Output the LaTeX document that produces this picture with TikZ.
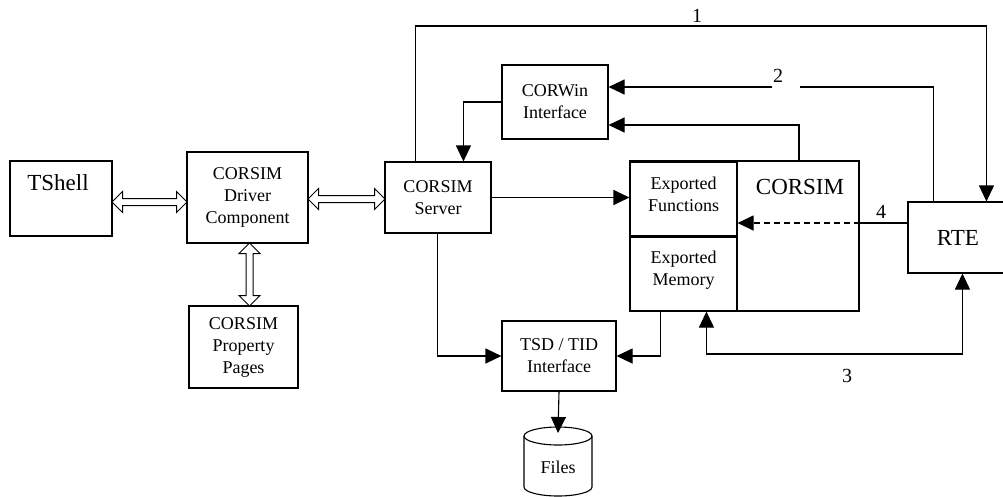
\documentclass[tikz,border=0pt]{standalone}
\usepackage{fontspec}
\setmainfont{Liberation Serif}
\usetikzlibrary{arrows.meta,shapes.arrows,calc}
\newcommand\fsmall{\fontsize{18}{22}\selectfont}
\newcommand\fbig{\fontsize{23}{26}\selectfont}
\newcommand\fnum{\fontsize{20}{24}\selectfont}
\begin{document}
\begin{tikzpicture}[x=1pt,y=-1pt,
  box/.style={draw, line width=1.1pt, inner sep=0pt, align=center, font=\fsmall},
  arr/.style={-{Triangle[length=16pt,width=15pt]}, line width=1.1pt},
  dualarr/.style={{Triangle[length=16pt,width=15pt]}-{Triangle[length=16pt,width=15pt]}, line width=1.1pt},
  plain/.style={line width=1.1pt},
  dbl/.style={draw, line width=1pt, double arrow, double arrow head extend=7pt,
    double arrow head indent=0pt, inner xsep=0pt, inner ysep=3pt},
  lbl/.style={font=\fnum, inner sep=0pt}]
\useasboundingbox (0,0) rectangle (1003,496);
% boxes
\node[box, minimum width=102pt, minimum height=75pt] (tshell) at (61,198.5) {};
\node[font=\fbig] (tshelltxt) at (58,183) {TShell};
\node[box, minimum width=121pt, minimum height=91pt] (driver) at (247.5,197.5) {CORSIM\\Driver\\Component};
\node[box, minimum width=109pt, minimum height=82pt] (prop) at (243.5,347) {CORSIM\\Property\\Pages};
\node[box, minimum width=106pt, minimum height=71pt] (server) at (438,197.5) {CORSIM\\Server};
\node[box, minimum width=106pt, minimum height=74pt] (corwin) at (555,102) {CORWin\\Interface};
\node[box, minimum width=229pt, minimum height=150pt] (corsim) at (744.5,236) {};
\node[font=\fbig] (corsimtxt) at (800,187) {CORSIM};
\node[box, minimum width=107pt, minimum height=74pt, text depth=10pt] (expf) at (683.5,199) {Exported\\Functions};
\node[box, minimum width=107pt, minimum height=75pt, text depth=10pt] (expm) at (683.5,273.5) {Exported\\Memory};
\draw[line width=2.2pt] (expf.south west) -- (expf.south east);
\node[box, minimum width=100pt, minimum height=71pt, font=\fbig] (rte) at (958,237.5) {RTE};
\node[box, minimum width=114pt, minimum height=70pt] (tsd) at (559,356) {TSD / TID\\Interface};
% files cylinder
\node[font=\fsmall] (files) at (558,467) {Files};
\draw[plain] (558,436) ellipse [x radius=34pt, y radius=9pt];
\draw[plain] (524,436) -- (524,487) arc[start angle=180, end angle=360, x radius=34pt, y radius=9pt] -- (592,436);
\coordinate (filestop) at (558,433);
% double arrows
\node[dbl, minimum height=75pt] (d1) at (149.5,202) {};
\node[dbl, minimum height=77pt] (d2) at (346.5,199) {};
\node[dbl, minimum height=63pt, rotate=90] (d3) at (249.5,274.5) {};
% connectors
\coordinate (top1) at (700,26);
\draw[arr] ([xshift=31pt]server.north west) |- (top1) -| ([xshift=79pt]rte.north west);
\node[lbl] (l1) at (697,16) {1};
\coordinate (gapR) at (800,87);
\coordinate (gapL) at (772,87);
\draw[plain] ([xshift=26pt]rte.north west) |- (gapR);
\draw[arr] (gapL) -- ([yshift=15pt]corwin.east);
\node[lbl] (l2) at (778,76) {2};
\draw[arr] ([xshift=54.5pt]corsim.north) |- ([yshift=-23pt]corwin.east);
\draw[arr] (corwin.west) -| ([xshift=79pt]server.north west);
\draw[arr] (server.east) -- (server.east -| expf.west);
\draw[arr] ([xshift=53pt]server.south west) |- (tsd.west);
\draw[arr] ([xshift=31pt]corsim.south west) |- (tsd.east);
\draw[arr] (tsd.south) -- (filestop);
\coordinate (bot3) at (835,354);
\draw[dualarr] ([xshift=77pt]corsim.south west) |- (bot3) -| ([xshift=55pt]rte.south west);
\node[lbl] (l3) at (847,376) {3};
\coordinate (r4) at ([yshift=14.5pt]rte.west);
\coordinate (c4) at (r4 -| corsim.east);
\draw[plain] (r4) -- (c4);
\draw[arr, dashed, dash pattern=on 6pt off 4pt] (c4) -- (c4 -| expf.east);
\node[lbl] (l4) at (881,212) {4};
\end{tikzpicture}
\end{document}
